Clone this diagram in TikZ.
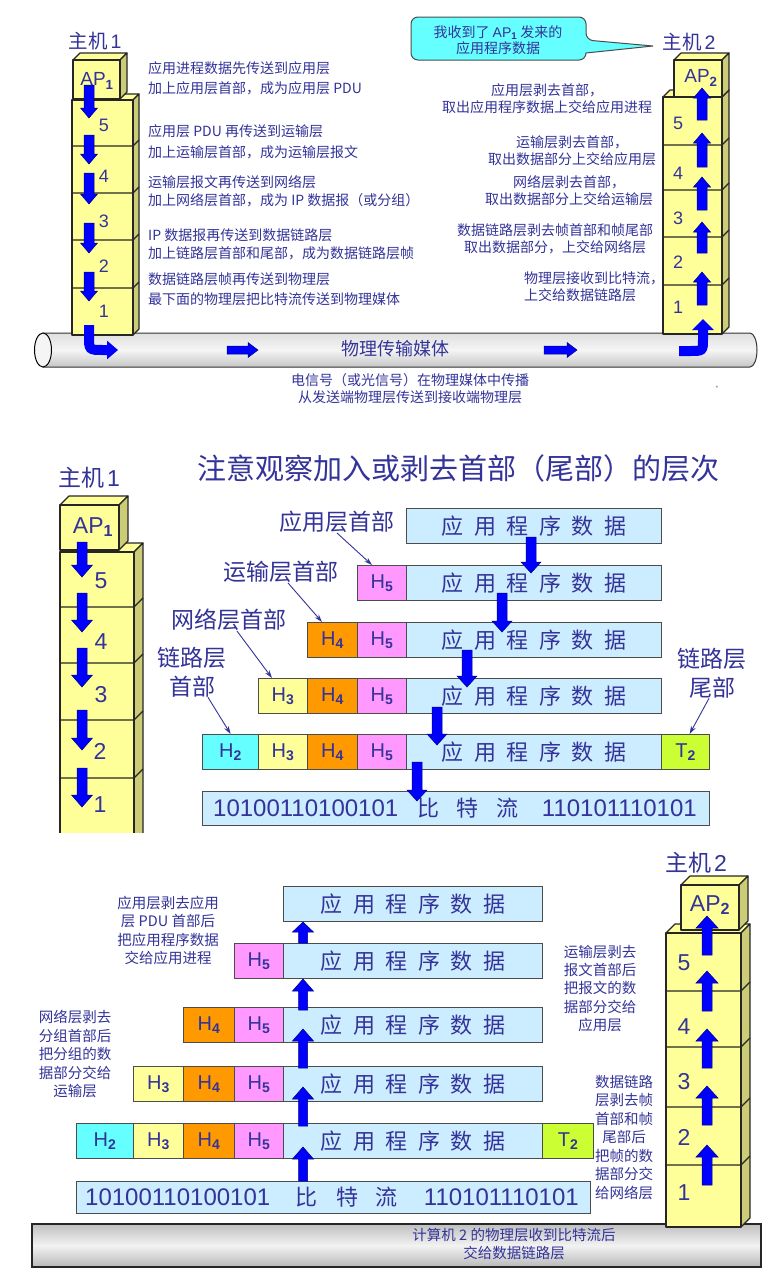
\documentclass[tikz,border=0pt]{standalone}
\usepackage{fontspec}
\setmainfont{Noto Sans CJK SC}
\newfontfamily\lat{Liberation Sans}
\usetikzlibrary{arrows.meta,calc}
\definecolor{tc}{RGB}{51,51,153}
\definecolor{yfill}{RGB}{255,255,153}
\definecolor{yside}{RGB}{204,204,119}
\definecolor{dfill}{RGB}{204,236,255}
\definecolor{hfive}{RGB}{255,153,255}
\definecolor{hfour}{RGB}{255,153,0}
\definecolor{hthree}{RGB}{255,255,153}
\definecolor{htwo}{RGB}{102,255,255}
\definecolor{ttwo}{RGB}{204,255,51}
\definecolor{bub}{RGB}{102,255,255}
\definecolor{arrblue}{RGB}{0,0,255}
\newcommand{\fsz}[2]{\fontsize{#1}{#2}\selectfont}
\newcommand{\sbs}[1]{\textsubscript{\bfseries #1}}
\newcommand{\apd}{应\hspace{10.5pt}用\hspace{10.5pt}程\hspace{10.5pt}序\hspace{10.5pt}数\hspace{10.5pt}据}
\newcommand{\cubeb}[5]{%
  \filldraw[edge,fill=yfill] (#1,#2) -- ++(#5,-#5) -- ({#3+#5},{#2-#5}) -- (#3,#2) -- cycle;
  \filldraw[edge,fill=yside] (#3,#2) -- ({#3+#5},{#2-#5}) -- ({#3+#5},{#4-#5}) -- (#3,#4) -- cycle;
  \filldraw[edge,fill=yfill] (#1,#2) rectangle (#3,#4);}
\newcommand{\lyr}[4]{\draw[edge] (#1,#3) -- (#2,#3) -- ++(#4,-#4);}
\newcommand{\darr}[6]{%
  \filldraw[barr] ({#1-#4/2},#2) -- ({#1-#4/2},{#3-#6}) -- ({#1-#5/2},{#3-#6}) -- (#1,#3) -- ({#1+#5/2},{#3-#6}) -- ({#1+#4/2},{#3-#6}) -- ({#1+#4/2},#2) -- cycle;}
\newcommand{\uarr}[6]{%
  \filldraw[barr] ({#1-#4/2},#2) -- ({#1-#4/2},{#3+#6}) -- ({#1-#5/2},{#3+#6}) -- (#1,#3) -- ({#1+#5/2},{#3+#6}) -- ({#1+#4/2},{#3+#6}) -- ({#1+#4/2},#2) -- cycle;}
\newcommand{\rarr}[6]{%
  \filldraw[barr] (#1,{#3-#4/2}) -- ({#2-#6},{#3-#4/2}) -- ({#2-#6},{#3-#5/2}) -- (#2,#3) -- ({#2-#6},{#3+#5/2}) -- ({#2-#6},{#3+#4/2}) -- (#1,{#3+#4/2}) -- cycle;}
\tikzset{
  edge/.style={draw=black!85, line width=1.1pt, line join=round},
  barr/.style={fill=arrblue, draw=black!50!blue, line width=0.5pt},
  tx/.style={text=tc, inner sep=0pt},
  t14/.style={tx, font=\fsz{14}{17}},
  cell/.style={draw=black!70, line width=1.2pt, inner sep=0pt, text=tc, anchor=north west, minimum height=35pt, font=\lat\fsz{20}{20}},
  dcell/.style={cell, fill=dfill, font=\fsz{22}{22}},
  lab/.style={draw=tc, line width=0.9pt, -{Stealth[length=8pt,width=5pt]}},
  tube/.style={draw=black!80, line width=1pt, shading=axis, top color=gray!25, bottom color=gray!45, middle color=gray!8},
  curv/.style={line width=10pt, arrblue},
}
\begin{document}
\begin{tikzpicture}[x=1pt,y=-1pt]
\useasboundingbox (0,0) rectangle (769,1274);
\fill[white] (0,0) rectangle (769,1274);

% ================= PART 1 =================
\draw[tube] (43,333) -- (750,333) arc[start angle=-90,end angle=90,x radius=7,y radius=17] -- (43,367) -- cycle;
\draw[line width=1pt, fill=gray!8] (43,350) ellipse [x radius=8.5, y radius=17];
\node[tx, font=\fsz{18}{18}] (medium) at (395,349) {物理传输媒体};
\rarr{227}{258}{350}{8}{15}{10}
\rarr{544}{577}{350}{8}{15}{10}

% host 1
\node[tx, font=\fsz{19.5}{20}] (h1a) at (95,41) {主机\hspace{3pt}{\lat 1}};
\cubeb{72}{100}{133}{335}{6}
\lyr{72}{133}{146}{6}
\lyr{72}{133}{193}{6}
\lyr{72}{133}{240}{6}
\lyr{72}{133}{288}{6}
\cubeb{73}{60}{120}{99}{7}
\node[tx, font=\lat\fsz{19}{19}] (ap1a) at (97,81) {AP\sbs1};
\node[tx, font=\lat\fsz{18}{18}] (n5a) at (104,125) {5};
\node[tx, font=\lat\fsz{18}{18}] (n4a) at (104,176) {4};
\node[tx, font=\lat\fsz{18}{18}] (n3a) at (104,221) {3};
\node[tx, font=\lat\fsz{18}{18}] (n2a) at (104,266) {2};
\node[tx, font=\lat\fsz{18}{18}] (n1a) at (104,311) {1};
\darr{89}{85}{118}{10}{17}{10}
\darr{89}{135}{164}{10}{17}{10}
\darr{89}{173}{204}{10}{17}{10}
\darr{89}{223}{253}{10}{17}{10}
\darr{89}{272}{301}{10}{17}{10}
\draw[curv, -{Triangle[width=18pt,length=11pt]}] (89,325) -- (89,336) .. controls (89,350) .. (103,350) -- (118,350);

% host 2
\node[tx, font=\fsz{19.5}{20}] (h2a) at (689,42) {主机\hspace{3pt}{\lat 2}};
\cubeb{663}{97}{722}{334}{7}
\lyr{663}{722}{145}{7}
\lyr{663}{722}{190}{7}
\lyr{663}{722}{237}{7}
\lyr{663}{722}{285}{7}
\cubeb{674}{60}{722}{97}{7}
\node[tx, font=\lat\fsz{19}{19}] (ap2a) at (701,78) {AP\sbs2};
\node[tx, font=\lat\fsz{18}{18}] (m5a) at (678,123) {5};
\node[tx, font=\lat\fsz{18}{18}] (m4a) at (678,173) {4};
\node[tx, font=\lat\fsz{18}{18}] (m3a) at (678,218) {3};
\node[tx, font=\lat\fsz{18}{18}] (m2a) at (678,262) {2};
\node[tx, font=\lat\fsz{18}{18}] (m1a) at (678,307) {1};
\uarr{702}{120}{88}{10}{17}{10}
\uarr{702}{167}{133}{10}{17}{10}
\uarr{702}{210}{177}{10}{17}{10}
\uarr{702}{253}{222}{10}{17}{10}
\uarr{702}{305}{272}{10}{17}{10}
\draw[curv, -{Triangle[width=21pt,length=11pt]}] (679,351) -- (690,351) .. controls (703,351) .. (703,339) -- (703,319);

% left texts
\node[t14, anchor=west] (l1) at (148,68) {应用进程数据先传送到应用层};
\node[t14, anchor=west] (l2) at (148,88) {加上应用层首部，成为应用层 PDU};
\node[t14, anchor=west] (l3) at (148,131) {应用层 PDU 再传送到运输层};
\node[t14, anchor=west] (l4) at (148,152) {加上运输层首部，成为运输层报文};
\node[t14, anchor=west] (l5) at (148,182) {运输层报文再传送到网络层};
\node[t14, anchor=west] (l6) at (148,200) {加上网络层首部，成为 IP 数据报（或分组）};
\node[t14, anchor=west] (l7) at (148,235) {IP 数据报再传送到数据链路层};
\node[t14, anchor=west] (l8) at (148,253) {加上链路层首部和尾部，成为数据链路层帧};
\node[t14, anchor=west] (l9) at (148,279) {数据链路层帧再传送到物理层};
\node[t14, anchor=west] (l10) at (148,299) {最下面的物理层把比特流传送到物理媒体};

% right texts
\node[t14, align=center] (r1) at (547,98.5) {应用层剥去首部，\\取出应用程序数据上交给应用进程};
\node[t14, align=center] (r2) at (572,150.5) {运输层剥去首部，\\取出数据部分上交给应用层};
\node[t14, align=center] (r3) at (569,190.5) {网络层剥去首部，\\取出数据部分上交给运输层};
\node[t14, align=center] (r4) at (555,238.5) {数据链路层剥去帧首部和帧尾部\\取出数据部分，上交给网络层};
\node[t14, align=left, anchor=west] (r5) at (524,286.5) {物理层接收到比特流，\\上交给数据链路层};
\node[t14, align=center] (btm) at (410,388.5) {电信号（或光信号）在物理媒体中传播\\从发送端物理层传送到接收端物理层};
\node[text=gray, inner sep=0pt, font=\fsz{7}{7}] (star) at (717,389) {*};

% bubble
\path[draw=black!70, line width=1pt, fill=bub, rounded corners=7pt] (411,17) -- (586,17) -- (586,40) [sharp corners] -- (653,46) -- (586,53) [rounded corners=7pt] -- (586,60) -- (411,60) -- cycle;
\node[tx, font=\fsz{14}{16}, align=center] (bubtxt) at (498,40) {我收到了 {\lat AP\sbs1} 发来的\\应用程序数据};

% ================= PART 2 =================
\node[tx, font=\fsz{29}{30}] (title) at (458,468) {注意观察加入或剥去首部（尾部）的层次};
\node[tx, font=\fsz{23}{24}] (h1b) at (89,478) {主机\hspace{3pt}{\lat 1}};
\begin{scope}
\clip (0,440) rectangle (769,832);
\cubeb{60}{552}{134}{860}{9}
\lyr{60}{134}{607}{9}
\lyr{60}{134}{663}{9}
\lyr{60}{134}{720}{9}
\lyr{60}{134}{778}{9}
\end{scope}
\cubeb{60}{505}{119}{550}{9}
\node[tx, font=\lat\fsz{23}{23}] (ap1b) at (93,527) {AP\sbs1};
\node[tx, font=\lat\fsz{23}{23}] (n5b) at (101,581) {5};
\node[tx, font=\lat\fsz{23}{23}] (n4b) at (101,642) {4};
\node[tx, font=\lat\fsz{23}{23}] (n3b) at (101,695) {3};
\node[tx, font=\lat\fsz{23}{23}] (n2b) at (100,751) {2};
\node[tx, font=\lat\fsz{23}{23}] (n1b) at (100,805) {1};
\darr{82}{542}{577}{10}{21}{12}
\darr{82}{593}{632}{10}{21}{12}
\darr{82}{648}{687}{10}{21}{12}
\darr{82}{710}{750}{10}{21}{12}
\darr{82}{768}{807}{10}{21}{12}

% rows
\node[dcell, minimum width=255pt] (a0) at (406,508) {\apd};
\node[cell, fill=hfive, minimum width=49pt] (b5) at (357,565) {H\sbs5};
\node[dcell, minimum width=255pt] (b0) at (406,565) {\apd};
\node[cell, fill=hfour, minimum width=50pt] (c4) at (307,622) {H\sbs4};
\node[cell, fill=hfive, minimum width=49pt] (c5) at (357,622) {H\sbs5};
\node[dcell, minimum width=255pt] (c0) at (406,622) {\apd};
\node[cell, fill=hthree, minimum width=49pt] (d3) at (258,678) {H\sbs3};
\node[cell, fill=hfour, minimum width=50pt] (d4) at (307,678) {H\sbs4};
\node[cell, fill=hfive, minimum width=49pt] (d5) at (357,678) {H\sbs5};
\node[dcell, minimum width=255pt] (d0) at (406,678) {\apd};
\node[cell, fill=htwo, minimum width=56pt] (e2) at (202,734) {H\sbs2};
\node[cell, fill=hthree, minimum width=49pt] (e3) at (258,734) {H\sbs3};
\node[cell, fill=hfour, minimum width=50pt] (e4) at (307,734) {H\sbs4};
\node[cell, fill=hfive, minimum width=49pt] (e5) at (357,734) {H\sbs5};
\node[dcell, minimum width=255pt] (e0) at (406,734) {\apd};
\node[cell, fill=ttwo, minimum width=48pt] (et) at (661,734) {T\sbs2};
\node[cell, fill=dfill, minimum width=507pt, minimum height=34pt] (f0) at (202,791) {};
\node[tx, font=\lat\fsz{24}{24}, anchor=west] (f1) at (213,808) {10100110100101};
\node[tx, font=\fsz{22}{22}] (f2) at (428,808) {比};
\node[tx, font=\fsz{22}{22}] (f3) at (467,808) {特};
\node[tx, font=\fsz{22}{22}] (f4) at (507,808) {流};
\node[tx, font=\lat\fsz{24}{24}, anchor=east] (f5) at (697,808) {110101110101};
\darr{531}{537}{573}{10}{20}{11}
\darr{502}{593}{632}{10}{20}{11}
\darr{467}{650}{687}{10}{20}{11}
\darr{437}{707}{745}{10}{20}{11}
\darr{417}{762}{801}{10}{20}{11}

% labels
\node[tx, font=\fsz{23}{24}] (lA) at (337,522) {应用层首部};
\node[tx, font=\fsz{23}{24}] (lB) at (281,572) {运输层首部};
\node[tx, font=\fsz{23}{24}] (lC) at (229,620) {网络层首部};
\node[tx, font=\fsz{23}{29}, align=center] (lD) at (192,672) {链路层\\首部};
\node[tx, font=\fsz{23}{29}, align=center] (lE) at (712,673) {链路层\\尾部};
\draw[lab] (lA.south) -- ([xshift=15pt]b5.north west);
\draw[lab] ([xshift=7pt]lB.south) -- ([xshift=15pt]c4.north west);
\draw[lab] ([xshift=8pt]lC.south) -- ([xshift=14pt]d3.north west);
\draw[lab] ([xshift=16pt]lD.south) -- (e2.north);
\draw[lab] ([xshift=-3pt]lE.south) -- ([xshift=4pt]et.north);

% ================= PART 3 =================
\draw[draw=black!85, line width=1.2pt, shading=axis, top color=gray!50, bottom color=gray!55, middle color=gray!10] (32,1224) rectangle (761,1267);
\node[tx, font=\fsz{23}{24}] (h2b) at (696,863) {主机\hspace{3pt}{\lat 2}};
\cubeb{666}{933}{741}{1227}{9}
\lyr{666}{741}{991}{9}
\lyr{666}{741}{1047}{9}
\lyr{666}{741}{1107}{9}
\lyr{666}{741}{1165}{9}
\cubeb{681}{885}{739}{930}{9}
\node[tx, font=\lat\fsz{23}{23}] (ap2b) at (710,905) {AP\sbs2};
\node[tx, font=\lat\fsz{23}{23}] (m5b) at (684,963) {5};
\node[tx, font=\lat\fsz{23}{23}] (m4b) at (684,1027) {4};
\node[tx, font=\lat\fsz{23}{23}] (m3b) at (684,1082) {3};
\node[tx, font=\lat\fsz{23}{23}] (m2b) at (684,1137) {2};
\node[tx, font=\lat\fsz{23}{23}] (m1b) at (684,1193) {1};
\uarr{707}{955}{916}{10}{22}{12}
\uarr{707}{1011}{971}{10}{22}{12}
\uarr{707}{1068}{1029}{10}{22}{12}
\uarr{707}{1125}{1086}{10}{22}{12}
\uarr{707}{1185}{1145}{10}{22}{12}

\node[dcell, minimum width=259pt] (g0) at (283,886) {\apd};
\node[cell, fill=hfive, minimum width=49pt] (h5) at (234,943) {H\sbs5};
\node[dcell, minimum width=259pt] (hh0) at (283,943) {\apd};
\node[cell, fill=hfour, minimum width=51pt] (i4) at (183,1007) {H\sbs4};
\node[cell, fill=hfive, minimum width=49pt] (i5) at (234,1007) {H\sbs5};
\node[dcell, minimum width=259pt] (i0) at (283,1007) {\apd};
\node[cell, fill=hthree, minimum width=50pt] (j3) at (133,1066) {H\sbs3};
\node[cell, fill=hfour, minimum width=51pt] (j4) at (183,1066) {H\sbs4};
\node[cell, fill=hfive, minimum width=49pt] (j5) at (234,1066) {H\sbs5};
\node[dcell, minimum width=259pt] (j0) at (283,1066) {\apd};
\node[cell, fill=htwo, minimum width=57pt] (k2) at (76,1123) {H\sbs2};
\node[cell, fill=hthree, minimum width=50pt] (k3) at (133,1123) {H\sbs3};
\node[cell, fill=hfour, minimum width=51pt] (k4) at (183,1123) {H\sbs4};
\node[cell, fill=hfive, minimum width=49pt] (k5) at (234,1123) {H\sbs5};
\node[dcell, minimum width=259pt] (k0) at (283,1123) {\apd};
\node[cell, fill=ttwo, minimum width=51pt] (kt) at (542,1123) {T\sbs2};
\node[cell, fill=dfill, minimum width=514pt, minimum height=32pt] (p0) at (76,1181) {};
\node[tx, font=\lat\fsz{24}{24}, anchor=west] (p1) at (85,1197) {10100110100101};
\node[tx, font=\fsz{22}{22}] (p2) at (306,1197) {比};
\node[tx, font=\fsz{22}{22}] (p3) at (347,1197) {特};
\node[tx, font=\fsz{22}{22}] (p4) at (386,1197) {流};
\node[tx, font=\lat\fsz{24}{24}, anchor=east] (p5) at (579,1197) {110101110101};
\uarr{303}{1181}{1147}{9}{21}{12}
\uarr{303}{1126}{1087}{9}{21}{12}
\uarr{303}{1068}{1029}{9}{21}{12}
\uarr{303}{1010}{979}{9}{21}{12}
\uarr{303}{943}{922}{9}{21}{10}

\node[tx, font=\fsz{14.5}{18.3}, align=center] (q1) at (168,930.5) {应用层剥去应用\\层 PDU 首部后\\把应用程序数据\\交给应用进程};
\node[tx, font=\fsz{14.5}{18.5}, align=center] (q2) at (75,1054) {网络层剥去\\分组首部后\\把分组的数\\据部分交给\\运输层};
\node[tx, font=\fsz{14.5}{18.3}, align=center] (q3) at (600,988.5) {运输层剥去\\报文首部后\\把报文的数\\据部分交给\\应用层};
\node[tx, font=\fsz{14.5}{18.5}, align=center] (q4) at (624,1137.5) {数据链路\\层剥去帧\\首部和帧\\尾部后\\把帧的数\\据部分交\\给网络层};
\node[tx, font=\fsz{14.5}{18}, align=center] (q5) at (514,1244) {计算机 2 的物理层收到比特流后\\交给数据链路层};
\end{tikzpicture}
\end{document}
